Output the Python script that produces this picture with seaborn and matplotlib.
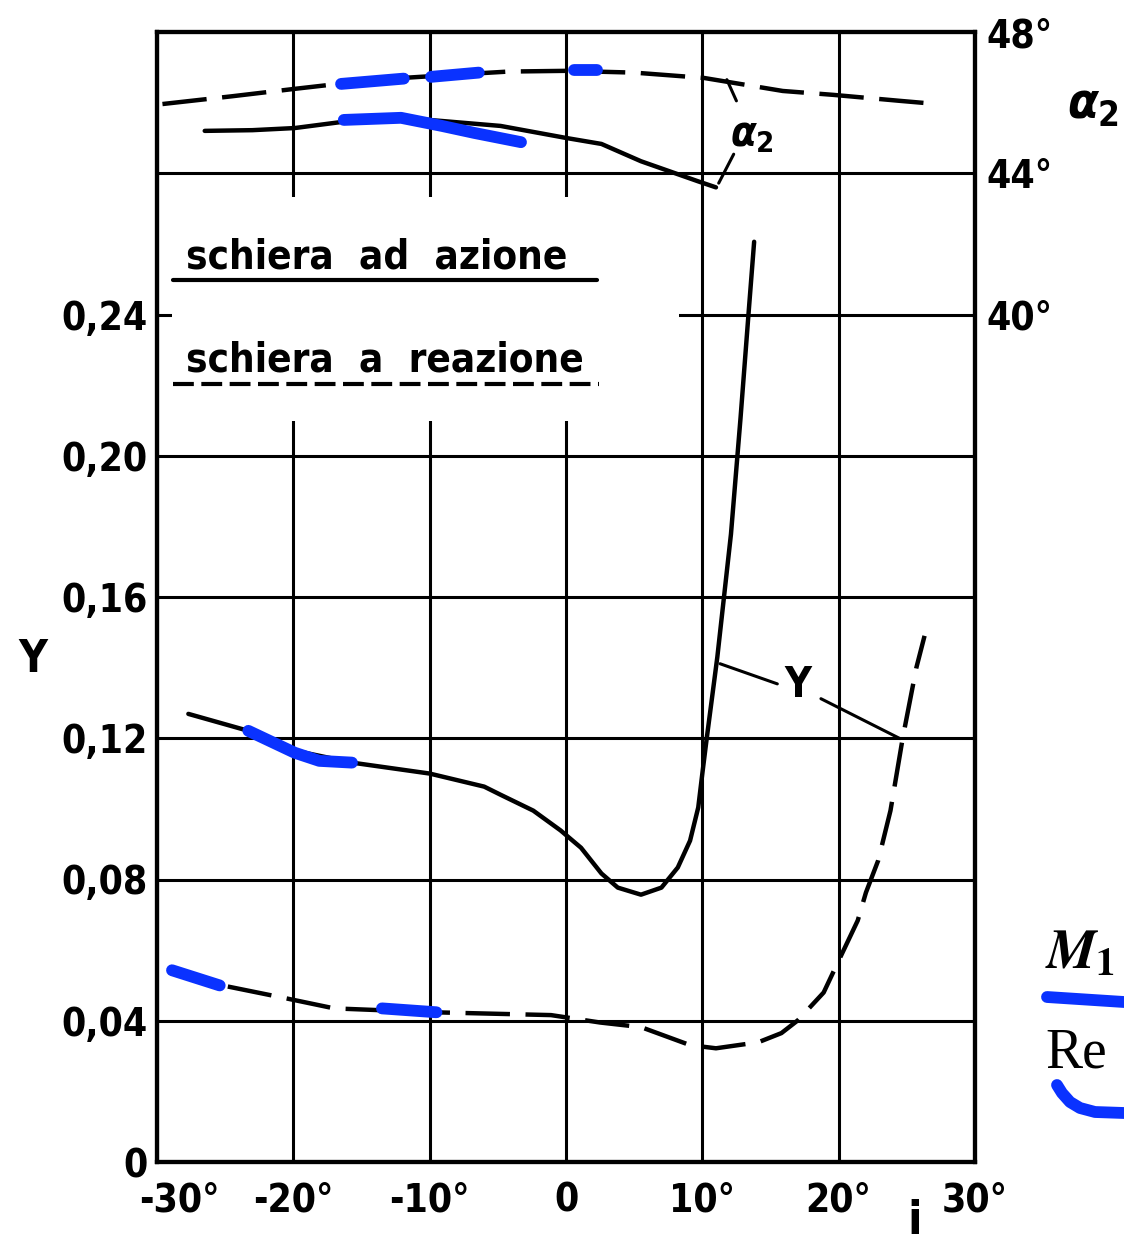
import numpy as np
import pandas as pd
import matplotlib
matplotlib.use("Agg")
import matplotlib.pyplot as plt
import seaborn as sns
from matplotlib import font_manager
from matplotlib.lines import Line2D
from matplotlib.patches import Rectangle
from matplotlib.transforms import ScaledTranslation

# angolo di incidenza i (gradi) e angolo di uscita alpha_2 (gradi)
i_alpha_azione = [-26.5, -23.0, -19.9, -16.5, -12.1, -9.1, -4.8, 0.0, 2.6, 5.5, 9.7, 11.0]
alpha_azione = [45.20, 45.22, 45.28, 45.45, 45.57, 45.48, 45.34, 45.00, 44.83, 44.34, 43.77, 43.60]
i_alpha_reazione = [-29.6, -24.5, -19.9, -14.0, -8.2, -4.2, 0.0, 5.0, 10.1, 15.9, 19.6, 24.5, 26.3]
alpha_reazione = [45.96, 46.18, 46.39, 46.65, 46.79, 46.88, 46.90, 46.85, 46.70, 46.33, 46.22,
                  46.05, 45.99]

# coefficiente di perdita Y
i_Y_azione = [-27.7, -23.3, -19.9, -15.7, -10.0, -6.0, -4.8, -2.4, -0.4, 1.1, 2.6, 3.8, 5.5,
              7.0, 8.2, 9.1, 9.7, 10.0, 10.3, 11.1, 12.1, 12.8, 13.4, 13.8]
Y_azione = [0.1269, 0.1221, 0.1165, 0.1131, 0.1100, 0.1063, 0.1040, 0.0995, 0.0939, 0.0890,
            0.0817, 0.0777, 0.0757, 0.0777, 0.0834, 0.0910, 0.1004, 0.1100, 0.1193, 0.1430,
            0.1778, 0.2106, 0.2408, 0.2606]
i_Y_reazione = [-29.0, -25.2, -20.6, -17.0, -9.7, -1.1, 2.5, 5.5, 9.1, 11.0, 14.1, 15.8, 17.0,
                18.9, 19.9, 21.4, 22.0, 22.9, 23.8, 24.7, 25.7, 26.3]
Y_reazione = [0.0548, 0.0500, 0.0464, 0.0435, 0.0424, 0.0416, 0.0395, 0.0382, 0.0331, 0.0322,
              0.0339, 0.0365, 0.0401, 0.0480, 0.0562, 0.0684, 0.0763, 0.0854, 0.0995, 0.1201,
              0.1400, 0.1490]

# tratti evidenziati a mano (blu)
blu_alpha_reazione = [([-16.5, -11.9], [46.53, 46.68]), ([-9.9, -6.4], [46.73, 46.85]),
                      ([0.6, 2.3], [46.93, 46.93])]
blu_alpha_azione = [([-16.3, -12.1, -9.1, -6.7, -3.3], [45.51, 45.57, 45.34, 45.14, 44.88])]
blu_Y_azione = [([-23.3, -19.9, -18.1, -15.7], [0.1221, 0.1159, 0.1136, 0.1131])]
blu_Y_reazione = [([-28.9, -25.4], [0.0543, 0.0500]), ([-13.5, -9.5], [0.0435, 0.0424])]

x_ticks = [-30, -20, -10, 0, 10, 20, 30]
x_labels = ["-30°", "-20°", "-10°", "0", "10°", "20°", "30°"]
y_ticks = [0, 0.04, 0.08, 0.12, 0.16, 0.20, 0.24, 0.28]
y_labels = ["0", "0,04", "0,08", "0,12", "0,16", "0,20", "0,24", ""]
a_ticks = [40, 44, 48]
a_labels = ["40°", "44°", "48°"]

W, H = 1124, 1258
BLU = "#0a32ff"
DASH = (0, (10, 3.5))

sns.set_theme(style="white")
fp = font_manager.FontProperties(family="DejaVu Sans", weight="bold", stretch="condensed")
if "Condensed" in font_manager.findfont(fp):
    STRETCH, FS = "condensed", 28
else:
    STRETCH, FS = "normal", 25
plt.rcParams["font.family"] = ["DejaVu Sans"]
plt.rcParams["font.weight"] = "bold"
plt.rcParams["font.stretch"] = STRETCH
plt.rcParams["text.color"] = "black"
plt.rcParams["xtick.labelcolor"] = "black"
plt.rcParams["ytick.labelcolor"] = "black"

fig = plt.figure(figsize=(W / 100, H / 100), dpi=100)
ax = fig.add_axes([157 / W, 1 - 1162 / H, (975 - 157) / W, (1162 - 32) / H])
ax2 = ax.twinx()

# curve principali
sns.lineplot(x=i_Y_azione, y=Y_azione, ax=ax, color="black", lw=3.2, sort=False, zorder=3)
sns.lineplot(x=i_Y_reazione, y=Y_reazione, ax=ax, color="black", lw=3.2, sort=False,
             linestyle=DASH, zorder=3)
sns.lineplot(x=i_alpha_azione, y=alpha_azione, ax=ax2, color="black", lw=3.2, sort=False, zorder=3)
sns.lineplot(x=i_alpha_reazione, y=alpha_reazione, ax=ax2, color="black", lw=3.2, sort=False,
             linestyle=DASH, zorder=3)

for seg_list, a in [(blu_Y_azione, ax), (blu_Y_reazione, ax),
                    (blu_alpha_azione, ax2), (blu_alpha_reazione, ax2)]:
    for xs, ys in seg_list:
        sns.lineplot(x=xs, y=ys, ax=a, color=BLU, lw=8.5, sort=False,
                     solid_capstyle="round", zorder=4)

ax.set_xlim(-30, 30)
ax.set_ylim(0, 0.32)
ax2.set_ylim(16, 48)
ax.set_xlabel("")
ax.set_ylabel("")
ax2.set_ylabel("")

ax.set_xticks(x_ticks)
ax.set_xticklabels(x_labels, fontsize=FS, fontweight="bold")
ax.set_yticks(y_ticks)
ax.set_yticklabels(y_labels, fontsize=FS, fontweight="bold")
ax2.set_yticks(a_ticks)
ax2.set_yticklabels(a_labels, fontsize=FS, fontweight="bold")
ax.tick_params(axis="both", length=0, pad=7)
ax.tick_params(axis="x", pad=14)
ax2.tick_params(axis="y", length=0, pad=8)
lab = ax.get_xticklabels()[0]
lab.set_transform(lab.get_transform() + ScaledTranslation(0.22, 0, fig.dpi_scale_trans))

ax.set_axisbelow(True)
ax.grid(True, color="black", lw=2.2)
for a in (ax, ax2):
    for s in a.spines.values():
        s.set_color("black")
        s.set_linewidth(3)

# riquadro della legenda
ax.add_patch(Rectangle((-28.9, 0.2098), 37.2, 0.0636, facecolor="white",
                       edgecolor="none", zorder=1))
ax.text(-27.9, 0.2530, "schiera  ad  azione", fontsize=FS + 1, fontweight="bold",
        va="baseline", ha="left", zorder=5)
ax.text(-27.9, 0.2239, "schiera  a  reazione", fontsize=FS + 1, fontweight="bold",
        va="baseline", ha="left", zorder=5)
ax.add_line(Line2D([-28.8, 2.3], [0.2499, 0.2499], color="black", lw=3, zorder=5))
ax.add_line(Line2D([-28.8, 2.4], [0.2202, 0.2202], color="black", lw=3,
                   linestyle=(0, (5, 1.8)), zorder=5))

# richiami
ax.add_line(Line2D([11.3, 15.5], [0.1411, 0.1354], color="black", lw=2.2, zorder=5))
ax.add_line(Line2D([18.7, 24.5], [0.1312, 0.1199], color="black", lw=2.2, zorder=5))
ax.text(17.0, 0.1350, "Y", fontsize=FS + 2, fontweight="bold", ha="center", va="center")
ax2.add_line(Line2D([11.8, 12.5], [46.65, 46.05], color="black", lw=2.2, zorder=5))
ax2.add_line(Line2D([12.3, 11.2], [44.54, 43.72], color="black", lw=2.2, zorder=5))
ax2.text(13.6, 45.11, r"$\alpha_2$", fontsize=30, ha="center", va="center",
         math_fontfamily="dejavusans")

fig.text(33 / W, 1 - 660 / H, "Y", fontsize=FS + 4, fontweight="bold", ha="center", va="center")
fig.text(1093 / W, 1 - 105 / H, r"$\alpha_2$", fontsize=36, ha="center", va="center",
         math_fontfamily="dejavusans")
fig.text(915 / W, 1 - 1222 / H, "i", fontsize=FS + 6, fontweight="bold", ha="center", va="center")

# annotazione M1 / Re
fig.text(1045 / W, 1 - 968 / H, r"$M_1$", fontsize=40, fontweight="normal",
         math_fontfamily="stix", va="baseline")
fig.text(1045 / W, 1 - 1067 / H, "Re", fontsize=40, fontweight="normal", fontstretch="normal",
         family=["Liberation Serif", "DejaVu Serif"], va="baseline")
for px, py in [([1047, 1124], [997, 1002]),
               ([1057, 1062, 1070, 1080, 1095, 1124], [1085, 1093, 1102, 1108, 1112, 1113])]:
    fig.add_artist(Line2D(np.array(px) / W, 1 - np.array(py) / H, color=BLU, lw=8.5,
                          solid_capstyle="round", solid_joinstyle="round",
                          transform=fig.transFigure))

fig.savefig("out.png", dpi=100)
